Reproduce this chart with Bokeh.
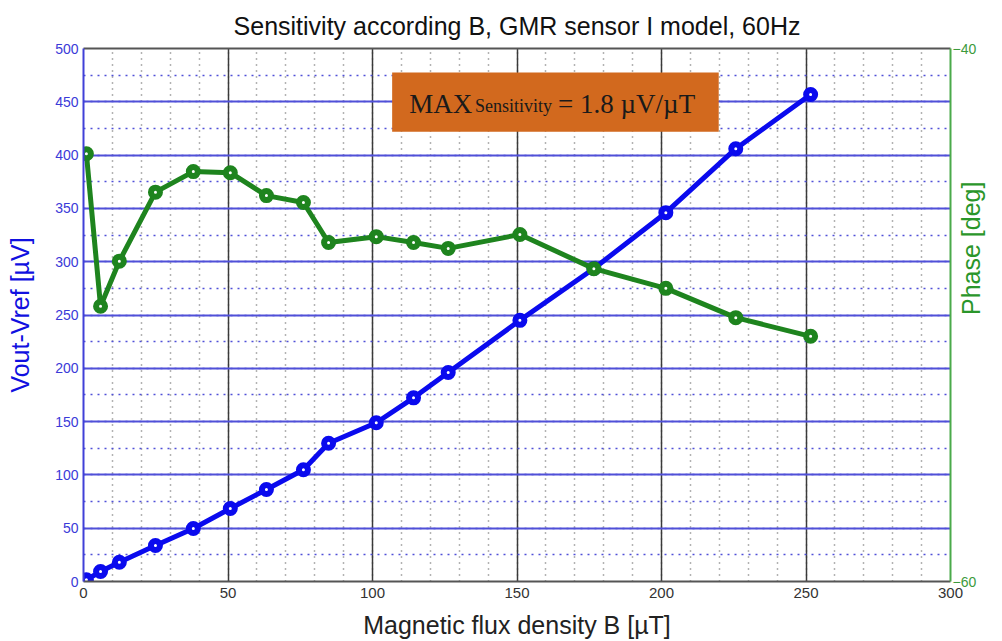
import math
from bokeh.plotting import figure
from bokeh.models import (Range1d, LinearAxis, SingleIntervalTicker, FixedTicker,
                          Label, BoxAnnotation, ColumnDataSource)
from bokeh.embed import file_html
from bokeh.resources import INLINE

b_field = [1, 5.9, 12.4, 24.9, 38, 50.8, 63.3, 76.1, 84.8, 101.3, 114.2, 126.2,
           151, 176.6, 201.5, 225.7, 251.6]
vout = [1.6, 9.4, 18.1, 33.8, 49.7, 68.5, 86.3, 104.8, 129.7, 148.9, 172.3, 196,
        245, 293.6, 346, 406, 456.8]
phase = [-43.95, -49.67, -47.98, -45.39, -44.62, -44.66, -45.52, -45.78, -47.28,
         -47.06, -47.28, -47.5, -46.98, -48.26, -49.0, -50.1, -50.8]
phase_ticks = [-60, -40]

title_text = "Sensitivity according B, GMR sensor I model, 60Hz"
xlabel = "Magnetic flux density B [\u00b5T]"
ylabel = "Vout-Vref [\u00b5V]"
y2label = "Phase [deg]"

BLUE, GREEN = "#0a0aee", "#1e841e"
GRID_BLUE, GRID_GRAY = "#5050d8", "#3a3a3a"

src = ColumnDataSource(dict(b=b_field, v=vout, ph=phase))

p = figure(width=1002, height=641, x_range=Range1d(0, 300), y_range=Range1d(0, 500),
           output_backend="svg", toolbar_location=None, title=title_text,
           min_border_left=83, min_border_right=51, min_border_top=48, min_border_bottom=60,
           background_fill_color="white", border_fill_color="white",
           outline_line_color=None)
p.extra_y_ranges = {"phase": Range1d(-60, -40)}

p.title.text_font = "Liberation Sans"
p.title.text_font_size = "25px"
p.title.text_font_style = "normal"
p.title.text_color = "#111111"
p.title.align = "center"
p.title.standoff = 18

p.xaxis.ticker = SingleIntervalTicker(interval=50, num_minor_ticks=5)
p.yaxis.ticker = SingleIntervalTicker(interval=50, num_minor_ticks=2)
for ax in (p.xaxis[0], p.yaxis[0]):
    ax.major_tick_out = 0
    ax.major_tick_in = 0
    ax.minor_tick_out = 0
    ax.minor_tick_in = 0
    ax.major_label_text_font = "Liberation Sans"
    ax.axis_label_text_font = "Liberation Sans"
    ax.axis_label_text_font_size = "25px"
    ax.axis_label_text_font_style = "normal"

p.xaxis.axis_line_color = "#555555"
p.xaxis.axis_line_width = 2
p.xaxis.major_label_text_font_size = "15px"
p.xaxis.major_label_text_color = "#333333"
p.xaxis.major_label_standoff = 6
p.xaxis.axis_label = xlabel
p.xaxis.axis_label_text_color = "#222222"
p.xaxis.axis_label_standoff = 10

p.yaxis.axis_line_color = "#4040d8"
p.yaxis.axis_line_width = 2
p.yaxis.major_label_text_font_size = "14px"
p.yaxis.major_label_text_color = "#3a3ad8"
p.yaxis.major_label_standoff = 5
p.yaxis.axis_label = ylabel
p.yaxis.axis_label_text_color = "#1010e0"
p.yaxis.axis_label_standoff = 18

right = LinearAxis(y_range_name="phase", ticker=FixedTicker(ticks=phase_ticks))
right.major_tick_out = 0
right.major_tick_in = 0
right.minor_tick_out = 0
right.axis_line_color = "#4aaa4a"
right.axis_line_width = 2
right.major_label_text_font = "Liberation Sans"
right.major_label_text_font_size = "14px"
right.major_label_text_color = "#3c9a3c"
right.major_label_standoff = 2
right.axis_label = y2label
right.axis_label_text_font = "Liberation Sans"
right.axis_label_text_font_size = "25px"
right.axis_label_text_font_style = "normal"
right.axis_label_text_color = "#2a962a"
right.axis_label_standoff = -8
right.axis_label_orientation = math.pi / 2
p.add_layout(right, "right")

top = LinearAxis(ticker=FixedTicker(ticks=[]))
top.axis_line_color = "#555555"
top.axis_line_width = 2
top.major_tick_out = 0
top.major_tick_in = 0
top.minor_tick_out = 0
top.major_label_text_font_size = "0px"
p.add_layout(top, "above")

p.xgrid.grid_line_color = GRID_GRAY
p.xgrid.grid_line_width = 1.5
p.xgrid.minor_grid_line_color = "#666666"
p.xgrid.minor_grid_line_width = 1.5
p.xgrid.minor_grid_line_dash = "1 5"
p.ygrid.grid_line_color = GRID_BLUE
p.ygrid.grid_line_width = 2
p.ygrid.minor_grid_line_color = GRID_BLUE
p.ygrid.minor_grid_line_width = 1.5
p.ygrid.minor_grid_line_dash = "2 5"

p.add_layout(BoxAnnotation(left=106.8, right=219.8, bottom=422, top=477.5,
                           fill_color="#d2691e", fill_alpha=1.0, line_color=None))
p.add_layout(Label(x=112.7, y=447.8, text="MAX", text_font="Liberation Serif",
                   text_font_size="27px", text_color="#1a1a1a", text_baseline="alphabetic"))
p.add_layout(Label(x=135.5, y=446.0, text="Sensitivity", text_font="Liberation Serif",
                   text_font_size="18px", text_color="#1a1a1a", text_baseline="alphabetic"))
p.add_layout(Label(x=164.2, y=447.8, text="= 1.8 \u00b5V/\u00b5T", text_font="Liberation Serif",
                   text_font_size="27px", text_color="#1a1a1a", text_baseline="alphabetic"))

p.line("b", "v", source=src, line_color=BLUE, line_width=5, line_join="round")
p.scatter("b", "v", source=src, marker="circle", size=9, line_width=6,
          line_color=BLUE, fill_color="white")
p.line("b", "ph", source=src, y_range_name="phase", line_color=GREEN, line_width=5,
       line_join="round")
p.scatter("b", "ph", source=src, y_range_name="phase", marker="circle", size=9,
          line_width=6, line_color=GREEN, fill_color="white")

open("out.html", "w").write(file_html(p, INLINE))
